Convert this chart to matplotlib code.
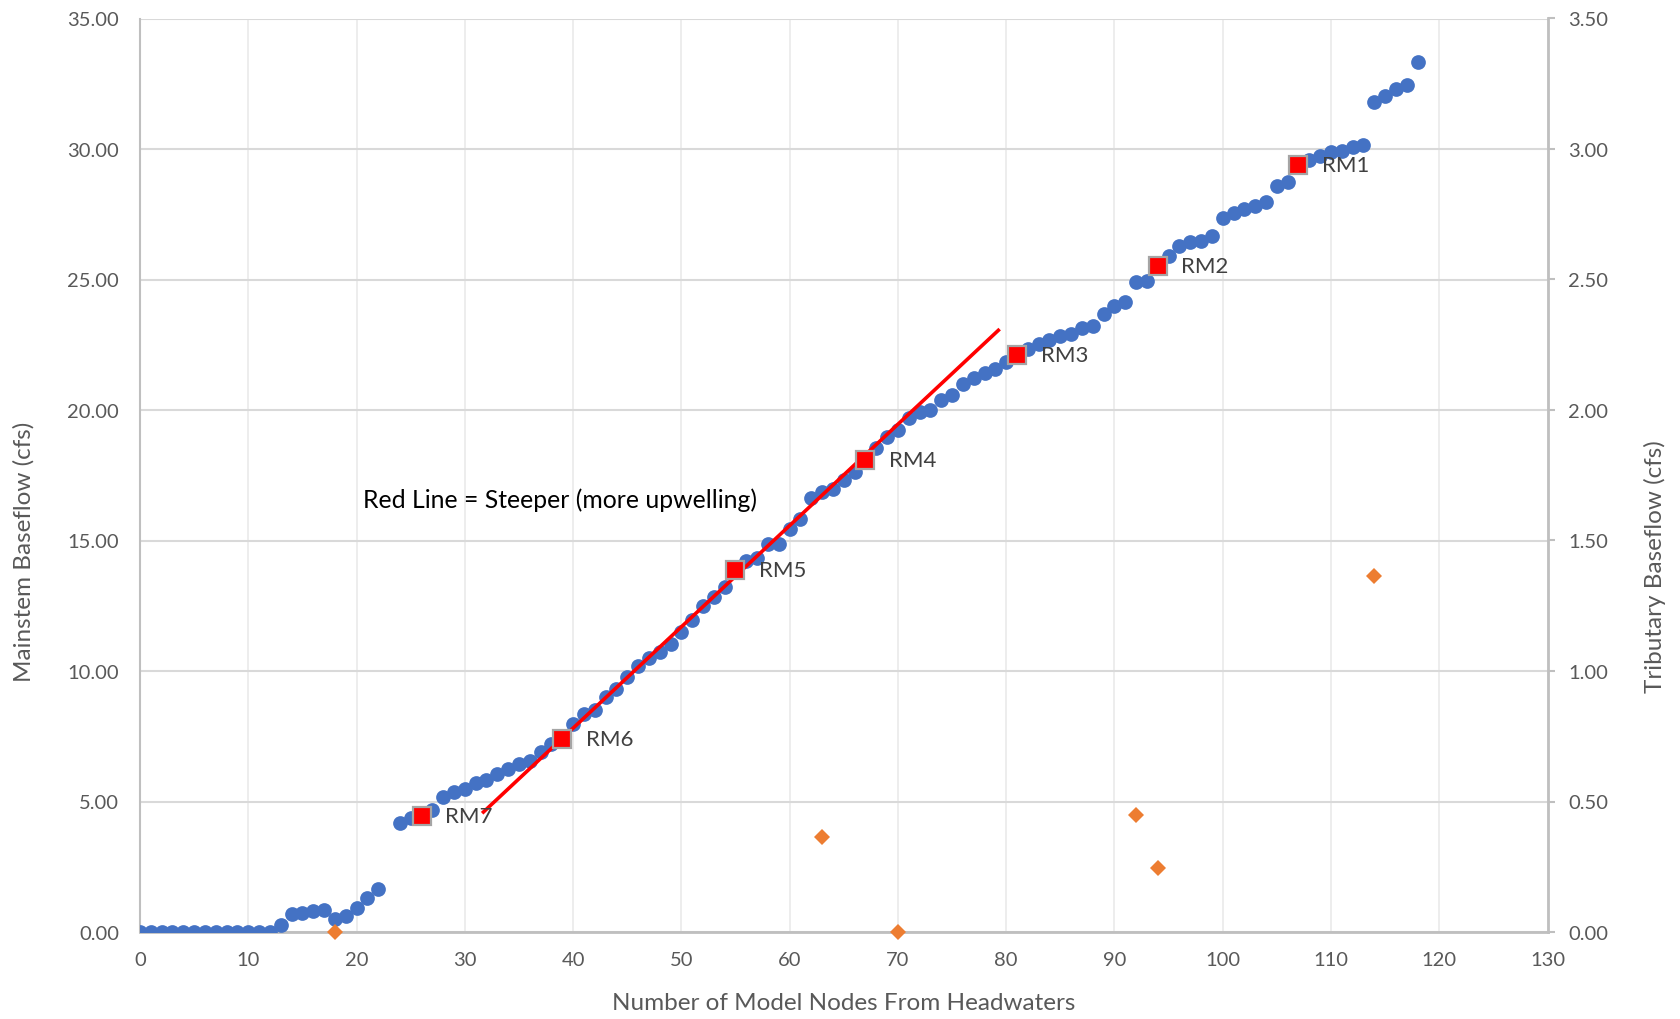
import numpy as np
import matplotlib
matplotlib.use("Agg")
import matplotlib.pyplot as plt

plt.rcParams['font.family'] = ['Lato', 'DejaVu Sans']

# ---------------- data ----------------
nodes = list(range(0, 119))
mainstem = [0, 0, 0, 0, 0, 0, 0, 0, 0, 0, 0, 0, 0,           # 0-12
            0.25, 0.68, 0.73, 0.79, 0.86, 0.48, 0.63, 0.91,   # 13-20
            1.30, 1.63, np.nan, 4.18, 4.36, 4.46, 4.69, 5.18, # 21-28
            5.36, 5.48, 5.69, 5.82, 6.05, 6.25, 6.45, 6.56,   # 29-36
            6.89, 7.20, 7.40, 7.96, 8.34, 8.52, 9.01, 9.31,   # 37-44
            9.77, 10.18, 10.49, 10.72, 11.03, 11.51, 11.95, 12.50,  # 45-52
            12.85, 13.20, 13.88, 14.22, 14.34, 14.88, 14.88, 15.44, # 53-60
            15.83, 16.62, 16.87, 16.97, 17.31, 17.64, 18.07, 18.53, # 61-68
            18.97, 19.22, 19.71, 19.91, 19.99, 20.39, 20.57, 20.98, # 69-76
            21.24, 21.42, 21.58, 21.85, 22.10, 22.34, 22.51, 22.67, # 77-84
            22.82, 22.92, 23.13, 23.23, 23.66, 24.00, 24.15, 24.89, # 85-92
            24.94, 25.50, 25.89, 26.27, 26.45, 26.47, 26.65, 27.37, # 93-100
            27.56, 27.70, 27.80, 27.98, 28.57, 28.72, 29.38, 29.56, # 101-108
            29.74, 29.87, 29.92, 30.07, 30.15, 31.81, 32.04, 32.29, # 109-116
            32.47, 33.32]                                          # 117-118

rm_labels = ["RM7", "RM6", "RM5", "RM4", "RM3", "RM2", "RM1"]
rm_nodes = [26, 39, 55, 67, 81, 94, 107]
rm_flow = [4.46, 7.40, 13.88, 18.07, 22.10, 25.50, 29.38]

trib_nodes = [18, 63, 70, 92, 94, 114]
trib_flow = [0.0, 0.365, 0.0, 0.448, 0.245, 1.365]

redline_x = [31.6, 79.4]
redline_y = [4.55, 23.10]

note_text = "Red Line = Steeper (more upwelling)"
note_pos = (20.6, 16.6)

xticks = list(range(0, 131, 10))
yticks_left = [0, 5, 10, 15, 20, 25, 30, 35]
yticks_right = [0, 0.5, 1.0, 1.5, 2.0, 2.5, 3.0, 3.5]

# ---------------- figure ----------------
W, H = 1680, 1020
fig = plt.figure(figsize=(W / 100, H / 100), dpi=100)
ax_bottom_px, ax_top_px = 933.0, 19.5
ax_h_px = ax_bottom_px - ax_top_px
ax = fig.add_axes([140 / W, 1 - ax_bottom_px / H, (1547.5 - 140) / W, ax_h_px / H])
ax.set_xlim(0, 130)
ax.set_ylim(0, 35)

blue = "#4472C4"
orange = "#ED7D31"
grid_h = "#D9D9D9"
grid_v = "#EDEDED"
spine_c = "#BFBFBF"
tick_c = "#595959"

ax.set_axisbelow(True)
ax.set_xticks(xticks)
ax.set_yticks(yticks_left)
ax.set_xticklabels([str(t) for t in xticks])
ax.set_yticklabels([f"{t:.2f}" for t in yticks_left])
ax.xaxis.grid(True, color=grid_v, lw=1.4)
ax.yaxis.grid(True, color=grid_h, lw=1.5)

for s in ["top", "right"]:
    ax.spines[s].set_visible(False)
ax.spines["left"].set_color(spine_c)
ax.spines["left"].set_linewidth(1.5)
ax.spines["bottom"].set_color(spine_c)
ax.spines["bottom"].set_linewidth(2.0)
ax.tick_params(axis="y", length=0, pad=15, labelsize=14.5, labelcolor=tick_c)
ax.tick_params(axis="x", length=0, pad=14, labelsize=14.5, labelcolor=tick_c)

# mainstem series
ax.plot(nodes, mainstem, linestyle="none", marker="o", markersize=10.6,
        markerfacecolor=blue, markeredgecolor=blue, markeredgewidth=0, zorder=3)

# red trend line
ax.plot(redline_x, redline_y, color="#FF0000", lw=2.6, solid_capstyle="butt", zorder=4)

# RM markers
ax.plot(rm_nodes, rm_flow, linestyle="none", marker="s", markersize=12.5,
        markerfacecolor="#FF0000", markeredgecolor="#A5A5A5", markeredgewidth=1.6, zorder=5)
for lab, xn, yv in zip(rm_labels, rm_nodes, rm_flow):
    ax.annotate(lab, (xn, yv), xytext=(17, 0), textcoords="offset points",
                ha="left", va="center", fontsize=16, color="#404040", zorder=6)

ax.text(note_pos[0], note_pos[1], note_text, ha="left", va="center",
        fontsize=17.8, color="#000000")

ax.set_xlabel("Number of Model Nodes From Headwaters", fontsize=17.5, color=tick_c)
ax.xaxis.label.set_va("center")
ax.xaxis.set_label_coords(0.5, (ax_bottom_px - 1004) / ax_h_px)
ax.set_ylabel("Mainstem Baseflow (cfs)", fontsize=17.5, color=tick_c)
ax.yaxis.label.set_va("center")
ax.yaxis.set_label_coords((24 - 140) / (1547.5 - 140), (ax_bottom_px - 552) / ax_h_px)

# secondary axis
ax2 = ax.twinx()
ax2.set_ylim(0, 3.5)
ax2.set_yticks(yticks_right)
ax2.set_yticklabels([f"{t:.2f}" for t in yticks_right])
for s in ["top", "left", "bottom"]:
    ax2.spines[s].set_visible(False)
ax2.spines["right"].set_color(spine_c)
ax2.spines["right"].set_linewidth(2.0)
ax2.tick_params(axis="y", length=5, width=1.5, color=spine_c, pad=10,
                labelsize=14.5, labelcolor=tick_c)
ax2.plot(trib_nodes, trib_flow, linestyle="none", marker="D", markersize=8,
         markerfacecolor=orange, markeredgecolor=orange, markeredgewidth=0,
         clip_on=False, zorder=3)
ax2.set_ylabel("Tributary Baseflow (cfs)", fontsize=17.5, color=tick_c)
ax2.yaxis.label.set_va("center")
ax2.yaxis.set_label_coords((1655 - 140) / (1547.5 - 140), (ax_bottom_px - 567) / ax_h_px)

fig.savefig("out.png", dpi=100)
